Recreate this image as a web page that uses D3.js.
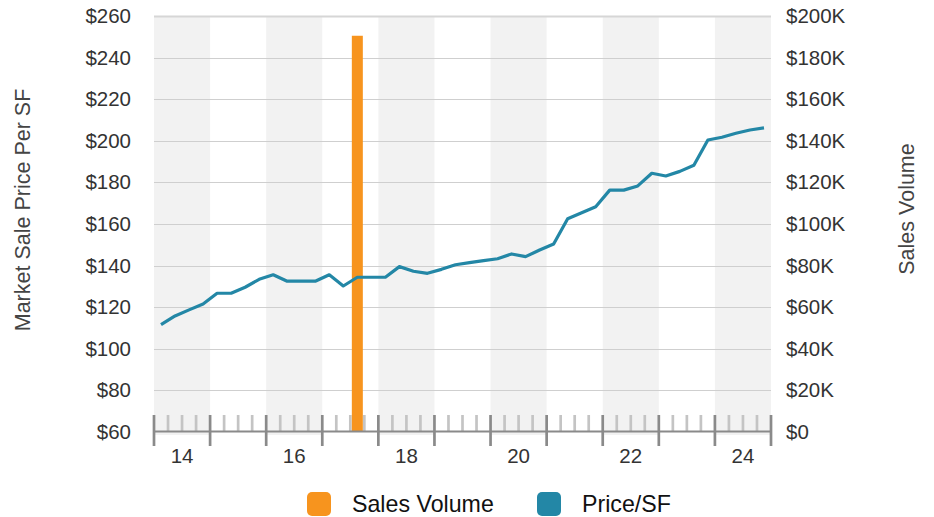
<!DOCTYPE html>
<html>
<head>
<meta charset="utf-8">
<script src="https://cdn.jsdelivr.net/npm/d3@7"></script>
<style>
  html, body { margin: 0; padding: 0; background: #fff; }
  svg { display: block; font-family: "Liberation Sans", Arial, Helvetica, sans-serif; }
</style>
</head>
<body>
<svg id="chart" width="934" height="517"></svg>
<script>
// ---- data ----
const years = [2014, 2015, 2016, 2017, 2018, 2019, 2020, 2021, 2022, 2023, 2024];
const quarterNames = ["Q1", "Q2", "Q3", "Q4"];
const quarters = years.flatMap(y => quarterNames.map(q => y + " " + q));
const priceSF = [
  111.6, 115.8, 118.7, 121.5, 126.7, 126.7, 129.6, 133.4, 135.6, 132.5, 132.5, 132.5,
  135.6, 130.2, 134.4, 134.4, 134.4, 139.5, 137.3, 136.3, 138.2, 140.4, 141.4, 142.4,
  143.3, 145.6, 144.3, 147.5, 150.4, 162.5, 165.4, 168.3, 176.3, 176.3, 178.3, 184.4,
  183.1, 185.3, 188.2, 200.4, 201.7, 203.6, 205.2, 206.2
];
const salesQuarters = ["2017 Q3"];
const salesValues = [190500];
const yearTickLabels = ["14", "16", "18", "20", "22", "24"];
const leftTicks = [60, 80, 100, 120, 140, 160, 180, 200, 220, 240, 260];
const rightTicks = [0, 20000, 40000, 60000, 80000, 100000, 120000, 140000, 160000, 180000, 200000];
const legendLabels = ["Sales Volume", "Price/SF"];
const colors = { volume: "#F7941E", price: "#2387A6" };

// ---- layout ----
const X0 = 154, X1 = 771, YT = 16, YB = 432;
const svg = d3.select("#chart");

const xQ = d3.scaleBand().domain(quarters).range([X0, X1]).padding(0);
const xY = d3.scaleBand().domain(years).range([X0, X1]).padding(0);
const yL = d3.scaleLinear().domain([60, 260]).range([YB, YT]);
const yR = d3.scaleLinear().domain([0, 200000]).range([YB, YT]);

// alternating year bands
svg.append("g").selectAll("rect")
  .data(years.filter((d, i) => i % 2 === 0))
  .join("rect")
  .attr("x", d => xY(d))
  .attr("width", xY.bandwidth())
  .attr("y", YT)
  .attr("height", YB + 3 - YT)
  .attr("fill", "#f2f2f2");

// gridlines
svg.append("g").selectAll("line")
  .data(leftTicks.slice(1))
  .join("line")
  .attr("x1", X0).attr("x2", X1)
  .attr("y1", d => Math.round(yL(d)) + 0.5)
  .attr("y2", d => Math.round(yL(d)) + 0.5)
  .attr("stroke", d => d === 260 ? "#d6d6d6" : "#cfcfcf")
  .attr("stroke-width", d => d === 260 ? 2 : 1);

// minor (quarter) ticks
svg.append("g").selectAll("line")
  .data(quarters.filter(q => !q.endsWith("Q1")))
  .join("line")
  .attr("x1", d => xQ(d)).attr("x2", d => xQ(d))
  .attr("y1", YB - 17).attr("y2", YB - 1)
  .attr("stroke", "#c4c4c4")
  .attr("stroke-width", 2.7);

// sales volume bars
const barW = 11;
svg.append("g").selectAll("rect")
  .data(salesQuarters.map((q, i) => ({ q, v: salesValues[i] })))
  .join("rect")
  .attr("x", d => xQ(d.q) + xQ.bandwidth() / 2 - barW / 2)
  .attr("width", barW)
  .attr("y", d => yR(d.v))
  .attr("height", d => yR(0) - yR(d.v) - 1)
  .attr("fill", colors.volume);

// x axis line
svg.append("line")
  .attr("x1", X0).attr("x2", X1 + 1)
  .attr("y1", YB - 0.5).attr("y2", YB - 0.5)
  .attr("stroke", "#8a8a8a").attr("stroke-width", 2);

// major (year) ticks
const yearEdges = years.map(y => xY(y)).concat([X1]);
svg.append("g").selectAll("line")
  .data(yearEdges)
  .join("line")
  .attr("x1", d => d).attr("x2", d => d)
  .attr("y1", YB - 17).attr("y2", YB + 14)
  .attr("stroke", "#8a8a8a")
  .attr("stroke-width", 2.7);

// year labels
svg.append("g").selectAll("text")
  .data(yearTickLabels)
  .join("text")
  .attr("x", d => xY(2000 + (+d)) + xY.bandwidth() / 2)
  .attr("y", 463)
  .attr("text-anchor", "middle")
  .attr("font-size", 20.5)
  .attr("fill", "#333")
  .text(d => d);

// price line
svg.append("path")
  .datum(priceSF)
  .attr("fill", "none")
  .attr("stroke", colors.price)
  .attr("stroke-width", 3.2)
  .attr("stroke-linejoin", "round")
  .attr("d", d3.line()
    .x((d, i) => xQ(quarters[i]) + xQ.bandwidth() / 2)
    .y(d => yL(d)));

// left axis
const leftAxis = d3.axisLeft(yL).tickValues(leftTicks).tickSize(0).tickPadding(0)
  .tickFormat(d => "$" + d);
const gL = svg.append("g").attr("transform", "translate(131,0)").call(leftAxis);
gL.select(".domain").remove();
gL.selectAll("text").attr("font-size", 20.5).attr("fill", "#333")
  .attr("font-family", "'Liberation Sans', Arial, Helvetica, sans-serif");

// right axis
const rightAxis = d3.axisRight(yR).tickValues(rightTicks).tickSize(0).tickPadding(0)
  .tickFormat(d => d === 0 ? "$0" : "$" + (d / 1000) + "K");
const gR = svg.append("g").attr("transform", "translate(786,0)").call(rightAxis);
gR.select(".domain").remove();
gR.selectAll("text").attr("font-size", 20.5).attr("fill", "#333")
  .attr("font-family", "'Liberation Sans', Arial, Helvetica, sans-serif");

// axis titles
svg.append("text")
  .attr("transform", "translate(30,210) rotate(-90)")
  .attr("text-anchor", "middle")
  .attr("font-size", 21.5)
  .attr("fill", "#444")
  .text("Market Sale Price Per SF");
svg.append("text")
  .attr("transform", "translate(914,209) rotate(-90)")
  .attr("text-anchor", "middle")
  .attr("font-size", 21.5)
  .attr("fill", "#444")
  .text("Sales Volume");

// legend
const legendX = [307, 537];
const legendColors = [colors.volume, colors.price];
const lg = svg.append("g").selectAll("g")
  .data(legendLabels)
  .join("g")
  .attr("transform", (d, i) => `translate(${legendX[i]},492)`);
lg.append("rect")
  .attr("width", 24).attr("height", 24).attr("rx", 5)
  .attr("fill", (d, i) => legendColors[i]);
lg.append("text")
  .attr("x", 45).attr("y", 19.5)
  .attr("font-size", 23.2)
  .attr("fill", "#111")
  .text(d => d);
</script>
</body>
</html>
